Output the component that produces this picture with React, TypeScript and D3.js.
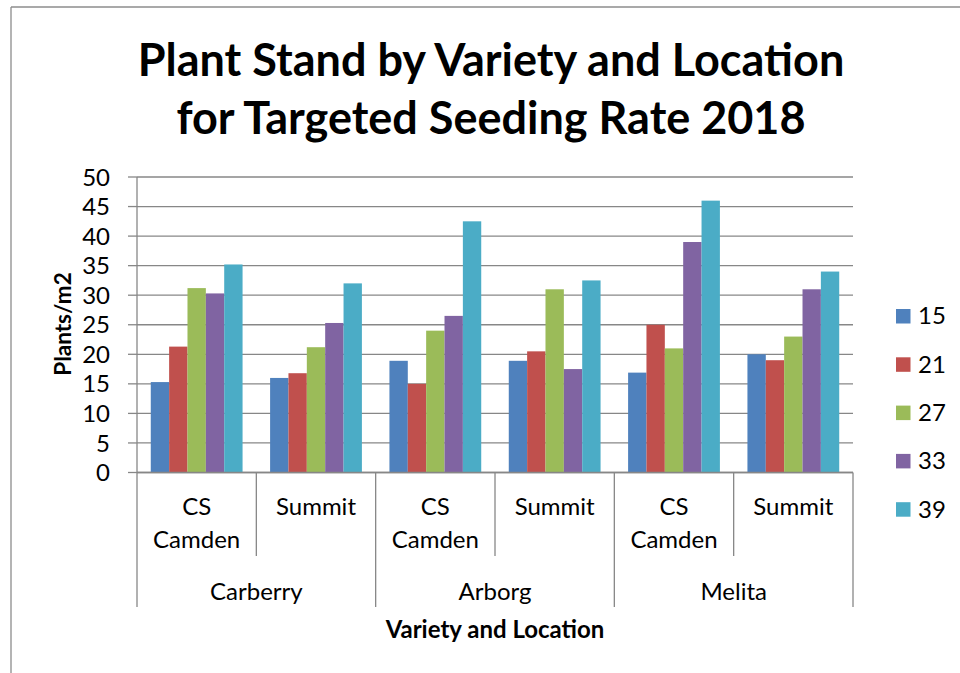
import React from "react";
import * as d3 from "d3";

const titleLines = ["Plant Stand by Variety and Location", "for Targeted Seeding Rate 2018"];
const locations = ["Carberry", "Arborg", "Melita"];
const varieties = ["CS Camden", "Summit"];
const seedingRates = ["15", "21", "27", "33", "39"];
const rate15 = [15.3, 16.0, 18.9, 18.9, 16.9, 20.0];
const rate21 = [21.3, 16.8, 15.0, 20.5, 25.0, 19.0];
const rate27 = [31.2, 21.2, 24.0, 31.0, 21.0, 23.0];
const rate33 = [30.3, 25.3, 26.5, 17.5, 39.0, 31.0];
const rate39 = [35.2, 32.0, 42.5, 32.5, 46.0, 34.0];
const seriesValues = [rate15, rate21, rate27, rate33, rate39];
const colors = ["#4F81BD", "#C0504D", "#9BBB59", "#8064A2", "#4BACC6"];
const yTicks = [0, 5, 10, 15, 20, 25, 30, 35, 40, 45, 50];
const yTitle = "Plants/m2";
const xTitle = "Variety and Location";

const W = 960;
const H = 673;
const FONT = "Lato, 'Open Sans', sans-serif";

export default function App() {
  const left = 137, right = 853, top = 177, bottom = 472.5;
  const cats = locations.flatMap((l) => varieties.map((v) => `${l}|${v}`));
  const gap = 1.5 / 6.5;
  const x0 = d3.scaleBand<string>().domain(cats).range([left, right]).paddingInner(gap).paddingOuter(gap / 2);
  const step = x0.step();
  const x1 = d3.scaleBand<string>().domain(seedingRates).range([0, x0.bandwidth()]).padding(0);
  const y = d3.scaleLinear().domain([0, 50]).range([bottom, top]);
  const gridColor = "#878787";
  const innerEnd = 556;
  const outerEnd = 607;

  return (
    <svg width={W} height={H} style={{ position: "absolute", left: 0, top: 0, background: "#fff" }} fontFamily={FONT}>
      <rect x={0} y={0} width={W} height={H} fill="#fff" />
      <line x1={11} y1={7} x2={W} y2={7} stroke="#8c8c8c" strokeWidth={1.3} />
      <line x1={11} y1={7} x2={11} y2={H} stroke="#8c8c8c" strokeWidth={1.3} />
      {titleLines.map((t, i) => (
        <text key={t} x={491} y={76 + i * 58} textAnchor="middle" fontSize={45} fontWeight="bold" fill="#000">
          {t}
        </text>
      ))}
      {yTicks.map((t) => (
        <g key={t}>
          <line x1={left} x2={right} y1={y(t)} y2={y(t)} stroke={gridColor} strokeWidth={1.3} />
          <line x1={128} x2={left} y1={y(t)} y2={y(t)} stroke={gridColor} strokeWidth={1.3} />
          <text x={110} y={y(t)} dy="0.36em" textAnchor="end" fontSize={24} fill="#000">
            {t}
          </text>
        </g>
      ))}
      {cats.map((c, ci) => (
        <g key={c}>
          {seriesValues.map((vals, si) => (
            <rect
              key={si}
              x={(x0(c) as number) + (x1(seedingRates[si]) as number)}
              y={y(vals[ci])}
              width={x1.bandwidth()}
              height={bottom - y(vals[ci])}
              fill={colors[si]}
            />
          ))}
        </g>
      ))}
      <line x1={left} x2={left} y1={top} y2={outerEnd} stroke={gridColor} strokeWidth={1.3} />
      <line x1={left} x2={right} y1={bottom} y2={bottom} stroke={gridColor} strokeWidth={1.3} />
      {cats.map((c, ci) => {
        const xr = (x0(c) as number) - (gap / 2) * step + step;
        const outer = ci % 2 === 1;
        return <line key={c} x1={xr} x2={xr} y1={bottom} y2={outer ? outerEnd : innerEnd} stroke={gridColor} strokeWidth={1.3} />;
      })}
      {cats.map((c, ci) => {
        const cx = (x0(c) as number) + x0.bandwidth() / 2;
        const words = varieties[ci % 2] === "CS Camden" ? ["CS", "Camden"] : [varieties[ci % 2]];
        return words.map((w, wi) => (
          <text key={c + w} x={cx} y={515 + wi * 33} textAnchor="middle" fontSize={24} fill="#000">
            {w}
          </text>
        ));
      })}
      {locations.map((l, li) => {
        const cx = left + step * (li * 2 + 1);
        return (
          <text key={l} x={cx} y={600} textAnchor="middle" fontSize={24} fill="#000">
            {l}
          </text>
        );
      })}
      <text x={495} y={638} textAnchor="middle" fontSize={24} fontWeight="bold" fill="#000">
        {xTitle}
      </text>
      <text transform={`translate(71,324) rotate(-90)`} textAnchor="middle" fontSize={22.5} fontWeight="bold" fill="#000">
        {yTitle}
      </text>
      {seedingRates.map((r, i) => (
        <g key={r} transform={`translate(896,${309 + i * 48.3})`}>
          <rect x={0} y={0} width={14.5} height={14.5} fill={colors[i]} />
          <text x={22} y={15.3} fontSize={24} fill="#000">
            {r}
          </text>
        </g>
      ))}
    </svg>
  );
}
